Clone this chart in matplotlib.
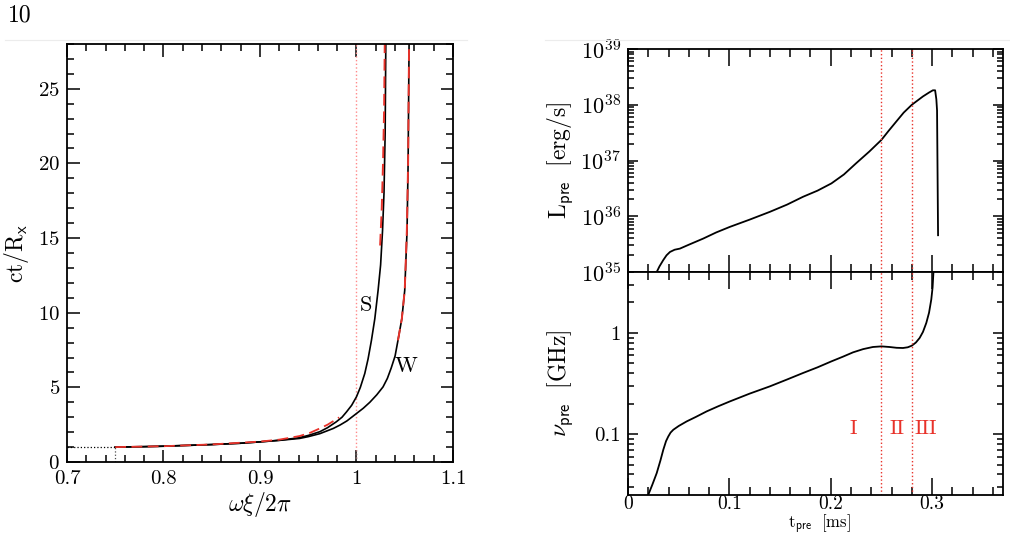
import numpy as np
import matplotlib
matplotlib.use("Agg")
import matplotlib.pyplot as plt
from matplotlib.ticker import MultipleLocator, FuncFormatter, LogLocator, NullFormatter

plt.rcParams['font.family'] = ['cmr10', 'DejaVu Serif']
plt.rcParams['mathtext.fontset'] = 'cm'
plt.rcParams['axes.formatter.use_mathtext'] = True
plt.rcParams['axes.unicode_minus'] = False

# ---- left panel: trajectories in the (omega xi / 2pi, ct/R_x) plane ----
s_x = [0.75, 0.78, 0.80, 0.85, 0.88, 0.90, 0.92, 0.94, 0.95, 0.962, 0.97, 0.979, 0.985, 0.9897,
       0.995, 1.0, 1.004, 1.0086, 1.012, 1.0155, 1.019, 1.0224, 1.025, 1.027, 1.0285, 1.0297, 1.0304]
s_y = [1.0, 1.03, 1.06, 1.17, 1.26, 1.35, 1.46, 1.62, 1.78, 2.03, 2.3, 2.69, 3.0, 3.36,
       3.8, 4.37, 5.0, 5.93, 6.9, 8.15, 9.6, 11.5, 13.2, 15.5, 18.0, 22.0, 28.0]

w_x = [0.75, 0.78, 0.80, 0.85, 0.88, 0.90, 0.92, 0.941, 0.95, 0.962, 0.976, 0.983, 0.99, 1.0,
       1.007, 1.0138, 1.021, 1.0275, 1.032, 1.036, 1.040, 1.043, 1.047, 1.050, 1.0524, 1.0535, 1.0545]
w_y = [1.0, 1.03, 1.06, 1.17, 1.26, 1.35, 1.45, 1.58, 1.70, 1.9, 2.25, 2.48, 2.75, 3.25,
       3.6, 4.0, 4.5, 5.03, 5.6, 6.3, 7.1, 8.15, 9.6, 11.5, 15.5, 20.0, 28.0]

# red approximations (low-xi expansion and the two asymptotes)
low_x = [0.75, 0.80, 0.85, 0.90, 0.92, 0.941, 0.952, 0.962, 0.97, 0.975, 0.982]
low_y = [1.0, 1.06, 1.18, 1.37, 1.50, 1.74, 1.96, 2.25, 2.5, 2.7, 2.99]
s_asym_x = [1.0245, 1.0262, 1.0275, 1.0286, 1.0293]
s_asym_y = [14.5, 17.0, 20.0, 23.5, 28.0]
w_asym_x = [1.043, 1.047, 1.050, 1.0522, 1.0535, 1.0545]
w_asym_y = [8.15, 9.6, 11.5, 15.5, 20.0, 28.0]

# ---- right panels: precursor luminosity and frequency ----
t_lum = [0.0283, 0.031, 0.0348, 0.038, 0.0414, 0.046, 0.0512, 0.06, 0.0742, 0.087, 0.1005,
         0.12, 0.140, 0.157, 0.1727, 0.187, 0.2007, 0.213, 0.225, 0.238, 0.250, 0.257,
         0.2647, 0.272, 0.280, 0.291, 0.297, 0.3008, 0.3030, 0.3042, 0.3049, 0.3059]
log_lum = [35.0, 35.1, 35.215, 35.3, 35.36, 35.4, 35.42, 35.49, 35.60, 35.71, 35.81,
           35.94, 36.08, 36.21, 36.35, 36.46, 36.59, 36.75, 36.95, 37.16, 37.37, 37.53,
           37.70, 37.86, 38.0, 38.15, 38.22, 38.26, 38.26, 38.1, 37.9, 35.66]

t_nu = [0.02, 0.024, 0.0283, 0.032, 0.0348, 0.0375, 0.0397, 0.042, 0.0447, 0.05, 0.0578,
        0.067, 0.0775, 0.089, 0.1005, 0.12, 0.140, 0.157, 0.1727, 0.187, 0.2007, 0.212,
        0.222, 0.232, 0.2416, 0.25, 0.258, 0.265, 0.2713, 0.276, 0.280, 0.284, 0.2877,
        0.291, 0.2943, 0.297, 0.2992, 0.3005, 0.3015]
log_nu = [-1.6, -1.5, -1.386, -1.26, -1.155, -1.07, -1.024, -0.985, -0.957, -0.92, -0.875,
          -0.83, -0.776, -0.725, -0.677, -0.60, -0.528, -0.46, -0.396, -0.34, -0.281, -0.235,
          -0.192, -0.16, -0.139, -0.133, -0.139, -0.147, -0.149, -0.142, -0.126, -0.095, -0.05,
          0.01, 0.099, 0.2, 0.33, 0.45, 0.63]

phase_t = [0.25, 0.28]
phase_names = ["I", "II", "III"]
phase_label_t = [0.222, 0.265, 0.2933]

RED = "#e8322a"


def style_axes(ax, xmaj_len=9, ymaj_len=9, xmin_len=5, ymin_len=5, size=15):
    """Inward ticks on all four sides, heavy frame."""
    ax.tick_params(which='both', direction='in', top=True, right=True, width=1.1)
    ax.tick_params(axis='x', which='major', length=xmaj_len, labelsize=size, pad=6)
    ax.tick_params(axis='y', which='major', length=ymaj_len, labelsize=size, pad=5)
    ax.tick_params(axis='x', which='minor', length=xmin_len)
    ax.tick_params(axis='y', which='minor', length=ymin_len)
    for sp in ax.spines.values():
        sp.set_linewidth(1.3)


fmt_g = FuncFormatter(lambda v, pos: "%g" % round(v, 6))

fig = plt.figure(figsize=(10.10, 5.36), dpi=100)

# page number and faint page edges
fig.text(0.008, 0.972, "10", fontsize=17, va='center', ha='left')
fig.add_artist(plt.Line2D([0.005, 0.462], [0.925, 0.925], color='#ececec', lw=0.8))
fig.add_artist(plt.Line2D([0.54, 1.0], [0.925, 0.925], color='#ececec', lw=0.8))

# left panel
ax = fig.add_axes([0.0663, 0.138, 0.3822, 0.780])
ax.plot([0.7, 0.75], [1, 1], color='k', ls=':', lw=0.9)
ax.plot([0.75, 0.75], [0, 1], color='0.3', ls=':', lw=0.9)
ax.axvline(1.0, color='#ff8a8a', ls=':', lw=1.0)
ax.plot([1.0, 1.0], [0, 0.8], color='0.35', ls=':', lw=1.0)
ax.plot(s_x, s_y, color='k', lw=1.2)
ax.plot(w_x, w_y, color='k', lw=1.2)
ax.plot(low_x, low_y, color=RED, lw=1.3, dashes=(6, 3))
ax.plot(s_asym_x, s_asym_y, color=RED, lw=1.4, dashes=(6, 3))
ax.plot(w_asym_x, w_asym_y, color=RED, lw=1.4, dashes=(6, 3))
ax.text(1.010, 10.5, "S", fontsize=16, ha='center', va='center')
ax.text(1.0517, 6.4, "W", fontsize=16, ha='center', va='center')
ax.set_xlim(0.7, 1.1)
ax.set_ylim(0, 28)
ax.xaxis.set_major_locator(MultipleLocator(0.1))
ax.xaxis.set_minor_locator(MultipleLocator(0.02))
ax.yaxis.set_major_locator(MultipleLocator(5))
ax.yaxis.set_minor_locator(MultipleLocator(1))
ax.xaxis.set_major_formatter(fmt_g)
style_axes(ax, xmaj_len=9, ymaj_len=9, xmin_len=5, ymin_len=5, size=15)
ax.set_xlabel(r'$\omega\xi/2\pi$', fontsize=17, labelpad=1)
ax.set_ylabel(r'$\mathrm{ct/R}_{\mathsf{x}}$', fontsize=17, labelpad=5)

# right top: luminosity, right bottom: frequency
left_r, width_r = 0.6218, 0.3713
ax1 = fig.add_axes([left_r, 0.4925, width_r, 0.416])
ax2 = fig.add_axes([left_r, 0.0765, width_r, 0.416], sharex=ax1)

ax1.plot(t_lum, 10.0 ** np.array(log_lum), color='k', lw=1.3)
ax1.set_yscale('log')
ax1.set_ylim(1e35, 1e39)
ax1.yaxis.set_major_locator(LogLocator(base=10, numticks=10))
ax1.yaxis.set_minor_locator(LogLocator(base=10, subs=np.arange(2, 10), numticks=20))
ax1.yaxis.set_minor_formatter(NullFormatter())
ax1.set_ylabel(r'$\mathrm{L}_{\mathsf{pre}}\ \ \mathrm{[erg/s]}$', fontsize=17, labelpad=4)

ax2.plot(t_nu, 10.0 ** np.array(log_nu), color='k', lw=1.3)
ax2.set_yscale('log')
ax2.set_ylim(0.025, 4.0)
ax2.yaxis.set_major_locator(LogLocator(base=10, numticks=10))
ax2.yaxis.set_minor_locator(LogLocator(base=10, subs=np.arange(2, 10), numticks=20))
ax2.yaxis.set_major_formatter(fmt_g)
ax2.yaxis.set_minor_formatter(NullFormatter())
ax2.set_ylabel(r'$\nu_{\mathsf{pre}}\ \ \mathrm{[GHz]}$', fontsize=17, labelpad=14)
ax2.set_xlabel(r'$\mathrm{t}_{\mathsf{pre}}\ \ \mathrm{[ms]}$', fontsize=12)
ax2.xaxis.set_label_coords(0.51, -0.183)
ax2.xaxis.label.set_va('bottom')

for a in (ax1, ax2):
    for tp in phase_t:
        a.axvline(tp, color=RED, ls=':', lw=1.0)
    style_axes(a, xmaj_len=12, ymaj_len=7, xmin_len=6, ymin_len=4, size=15)

for name, tp in zip(phase_names, phase_label_t):
    ax2.text(tp, 0.112, name, color=RED, fontsize=15, ha='center', va='center')

ax1.set_xlim(0, 0.37)
ax1.xaxis.set_major_locator(MultipleLocator(0.1))
ax1.xaxis.set_minor_locator(MultipleLocator(0.02))
ax2.xaxis.set_major_formatter(fmt_g)
plt.setp(ax1.get_xticklabels(), visible=False)
ax1.tick_params(axis='y', labelsize=16)
ax2.tick_params(axis='x', pad=0, labelsize=14)

fig.savefig("out.png", dpi=100)
